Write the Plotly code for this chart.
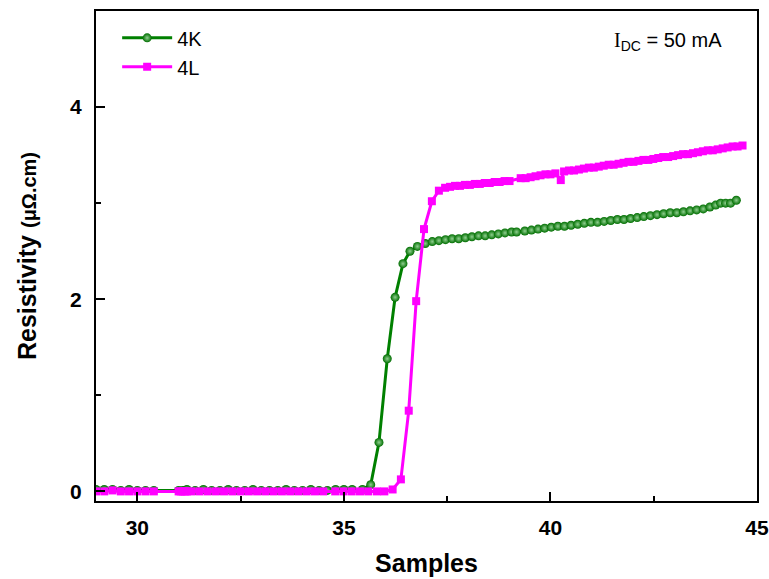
import plotly.graph_objects as go

# ---- data ----
x_4k = [29.0, 29.2, 29.4, 29.6, 29.8, 30.0, 30.2, 30.4, 31.0, 31.1, 31.2, 31.4, 31.6, 31.8,
        32.0, 32.2, 32.4, 32.6, 32.8, 33.0, 33.2, 33.4, 33.6, 33.8, 34.0, 34.2, 34.4, 34.6,
        34.8, 35.0, 35.2, 35.45, 35.65, 35.85, 36.05, 36.24, 36.43, 36.60, 36.78, 36.97,
        37.14, 37.30, 37.46, 37.62, 37.78, 37.94, 38.10, 38.26, 38.42, 38.58, 38.74, 38.90,
        39.06, 39.18, 39.38, 39.54, 39.70, 39.86, 40.02, 40.18, 40.34, 40.50, 40.66, 40.82,
        40.98, 41.14, 41.30, 41.46, 41.62, 41.78, 41.94, 42.10, 42.26, 42.42, 42.58, 42.74,
        42.90, 43.06, 43.22, 43.38, 43.54, 43.70, 43.86, 44.00, 44.12, 44.24, 44.36, 44.50]
y_4k = [0.02, 0.02, 0.02, 0.01, 0.02, 0.01, 0.01, 0.01, 0.01, 0.01, 0.02, 0.01, 0.02, 0.01,
        0.01, 0.02, 0.01, 0.01, 0.02, 0.01, 0.01, 0.01, 0.02, 0.01, 0.01, 0.02, 0.01, 0.01,
        0.02, 0.02, 0.02, 0.02, 0.07, 0.51, 1.38, 2.02, 2.37, 2.50, 2.55, 2.58,
        2.60, 2.61, 2.62, 2.63, 2.63, 2.64, 2.65, 2.66, 2.66, 2.67, 2.68, 2.69,
        2.70, 2.70, 2.71, 2.72, 2.73, 2.74, 2.75, 2.76, 2.76, 2.77, 2.78, 2.79,
        2.80, 2.80, 2.81, 2.82, 2.83, 2.83, 2.84, 2.85, 2.86, 2.87, 2.88, 2.89,
        2.90, 2.90, 2.91, 2.92, 2.93, 2.94, 2.96, 2.98, 3.00, 3.00, 3.00, 3.03]

x_4l = [29.0, 29.2, 29.4, 29.6, 29.8, 30.0, 30.2, 30.4, 31.0, 31.05, 31.1, 31.15, 31.2, 31.3,
        31.5, 31.7, 31.9, 32.1, 32.3, 32.5, 32.7, 32.9, 33.1, 33.3, 33.5, 33.7, 33.9, 34.1,
        34.3, 34.5, 34.79, 34.99, 35.19, 35.39, 35.59, 35.80, 35.98, 36.18, 36.38, 36.57,
        36.75, 36.94, 37.13, 37.30, 37.45, 37.57, 37.69, 37.81, 37.93, 38.05, 38.17, 38.29,
        38.41, 38.53, 38.65, 38.77, 38.89, 39.01, 39.28, 39.40, 39.52, 39.64, 39.76, 39.88,
        40.00, 40.12, 40.25, 40.33, 40.45, 40.57, 40.69, 40.81, 40.93, 41.05, 41.17, 41.29,
        41.41, 41.53, 41.65, 41.77, 41.89, 42.01, 42.13, 42.25, 42.37, 42.49, 42.61, 42.73,
        42.85, 42.97, 43.09, 43.21, 43.33, 43.45, 43.57, 43.69, 43.81, 43.93, 44.05, 44.17,
        44.29, 44.41, 44.53, 44.65]
y_4l = [0.00, 0.00, 0.01, 0.00, 0.00, 0.00, 0.00, 0.00, 0.00, 0.00, 0.00, 0.00, 0.00, 0.00,
        0.00, 0.00, 0.00, 0.00, 0.00, 0.00, 0.00, 0.00, 0.00, 0.00, 0.00, 0.00, 0.00, 0.00,
        0.00, 0.00, 0.00, 0.00, 0.00, 0.00, 0.00, 0.00, 0.00, 0.02, 0.125, 0.84,
        1.98, 2.73, 3.02, 3.13, 3.16, 3.17, 3.18, 3.18, 3.19, 3.19, 3.20, 3.20,
        3.21, 3.21, 3.22, 3.22, 3.23, 3.23, 3.26, 3.26, 3.27, 3.28, 3.29, 3.30,
        3.30, 3.31, 3.24, 3.33, 3.34, 3.34, 3.35, 3.36, 3.37, 3.37, 3.38, 3.39,
        3.40, 3.40, 3.41, 3.42, 3.43, 3.43, 3.44, 3.45, 3.45, 3.46, 3.47, 3.48,
        3.48, 3.49, 3.50, 3.51, 3.51, 3.52, 3.53, 3.54, 3.55, 3.55, 3.56, 3.57,
        3.58, 3.59, 3.59, 3.60]

x_ticks = [30, 35, 40, 45]
y_ticks = [0, 2, 4]

FONT = "Liberation Sans, Arial, sans-serif"

fig = go.Figure()
fig.add_trace(go.Scatter(
    x=x_4k, y=y_4k, name="4K", mode="lines+markers",
    line=dict(color="#008000", width=3),
    marker=dict(symbol="circle", size=9, color="#006e00",
                gradient=dict(type="radial", color="#8fcf8f"),
                line=dict(width=0)),
))
fig.add_trace(go.Scatter(
    x=x_4l, y=y_4l, name="4L", mode="lines+markers",
    line=dict(color="#ff00ff", width=3),
    marker=dict(symbol="square", size=8, color="#ff00ff", line=dict(width=0)),
))

axis_common = dict(
    showline=True, linecolor="black", linewidth=2, mirror=True,
    showgrid=False, zeroline=False, automargin=False,
    ticks="inside", ticklen=9, tickwidth=1.5, tickcolor="black",
    tickfont=dict(family=FONT, size=21, color="black", weight="bold"),
    minor=dict(ticks="inside", ticklen=5, tickwidth=1.5, tickcolor="black"),
)

fig.update_xaxes(
    range=[29, 45], tickvals=x_ticks, ticktext=[str(v) for v in x_ticks],
    minor_dtick=2.5, minor_tick0=0,
    title=dict(text="<b>Samples</b>", font=dict(family=FONT, size=25, color="black"), standoff=16),
    ticklabelstandoff=7,
    **axis_common,
)
fig.update_yaxes(
    range=[-0.1, 5.0], tickvals=y_ticks, ticktext=[str(v) for v in y_ticks],
    minor_dtick=1, minor_tick0=0,
    title=dict(text="<b>Resistivity</b> <b style='font-size:20px'>(μΩ.cm)</b>",
               font=dict(family=FONT, size=25, color="black"), standoff=26),
    ticklabelstandoff=8,
    **axis_common,
)

fig.add_annotation(
    xref="paper", yref="paper", x=0.950, y=0.937, xanchor="right", yanchor="middle",
    text="<span style='font-family:Liberation Serif'>I</span><sub>DC</sub> = 50 mA",
    showarrow=False, font=dict(family=FONT, size=20, color="black"),
)

fig.update_layout(
    width=769, height=579,
    margin=dict(l=96, r=12, t=11, b=78),
    paper_bgcolor="white", plot_bgcolor="white",
    showlegend=True,
    legend=dict(x=0.032, y=0.985, xanchor="left", yanchor="top",
                font=dict(family=FONT, size=20, color="black"),
                bgcolor="rgba(0,0,0,0)", itemwidth=50, tracegroupgap=4),
)

fig.write_html("out.html")
